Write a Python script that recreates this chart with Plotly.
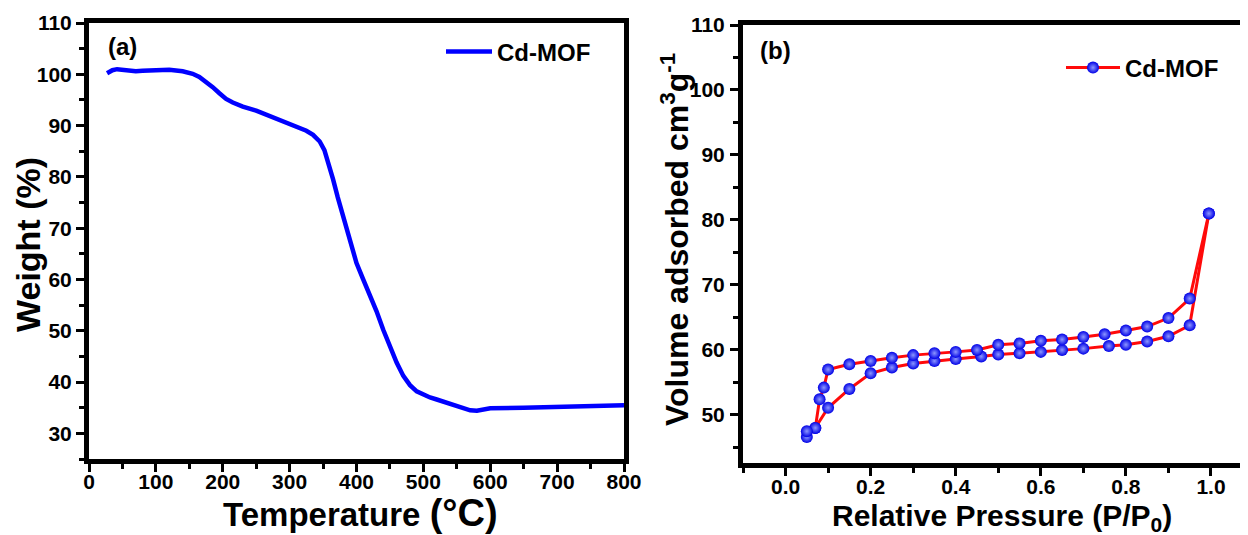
import plotly.graph_objects as go

# ---- Panel (a): TGA ----
temps = [27, 35, 42, 50, 60, 70, 80, 100, 120, 140, 155, 165, 175, 185, 195, 205, 215, 230, 250,
         270, 290, 310, 325, 335, 345, 352, 358, 365, 372, 380, 390, 400, 410, 420, 430, 440, 450,
         460, 470, 480, 490, 500, 510, 520, 530, 540, 550, 560, 570, 580, 590, 600, 650, 700, 750, 800]
weights = [100.2, 100.8, 101.0, 100.9, 100.6, 100.6, 100.7, 100.9, 100.9, 100.6, 100.1, 99.5, 98.6,
           97.5, 96.3, 95.2, 94.5, 93.7, 92.9, 91.9, 90.8, 89.9, 89.0, 88.2, 86.9, 85.2, 82.8, 79.5,
           76.0, 72.3, 67.5, 63.2, 60.0, 57.0, 53.8, 50.2, 46.8, 43.8, 41.2, 39.4, 38.2, 37.5, 37.0,
           36.6, 36.2, 35.8, 35.3, 34.8, 34.5, 34.4, 34.7, 34.9, 35.0, 35.1, 35.3, 35.5]

# ---- Panel (b): N2 isotherm ----
ads_p = [0.05, 0.07, 0.10, 0.15, 0.20, 0.25, 0.30, 0.35, 0.40, 0.46, 0.50, 0.55, 0.60, 0.65, 0.70,
         0.76, 0.80, 0.85, 0.90, 0.95, 0.995]
ads_v = [46.6, 48.0, 51.1, 54.0, 56.4, 57.3, 57.9, 58.3, 58.6, 59.0, 59.3, 59.5, 59.7, 60.0, 60.2,
         60.6, 60.8, 61.3, 62.1, 63.8, 81.0]
des_p = [0.995, 0.95, 0.90, 0.85, 0.80, 0.75, 0.70, 0.65, 0.60, 0.55, 0.50, 0.45, 0.40, 0.35, 0.30,
         0.25, 0.20, 0.15, 0.10, 0.09, 0.08, 0.07, 0.05]
des_v = [81.0, 67.9, 64.9, 63.6, 63.0, 62.4, 62.0, 61.6, 61.4, 61.0, 60.8, 60.0, 59.7, 59.5, 59.2,
         58.8, 58.3, 57.8, 57.0, 54.2, 52.4, 48.0, 47.5]

series_name = "Cd-MOF"
title_a_x = "Temperature <span style='font-size:38px'>(°C)</span>"
title_a_y = "Weight (%)"
title_b_x = "Relative Pressure (P/P<sub>0</sub>)"
title_b_y = "Volume adsorbed cm<sup>3</sup>g<sup>-1</sup>"

# page body has an 8px margin: figure is 1240x527 so it ends at the window edge
OFF = 8
W, H = 1240, 527
def fx(sx):
    return (sx - OFF) / W
def fy(sy):
    return 1 - (sy - OFF) / H

FONT = "Liberation Sans, Arial, sans-serif"
BOLD = dict(family=FONT, weight="bold", color="black")

fig = go.Figure()
fig.add_trace(go.Scatter(x=temps, y=weights, mode="lines", name=series_name,
                         line=dict(color="#0000FF", width=4.5), xaxis="x", yaxis="y",
                         legend="legend", showlegend=True))
marker = dict(size=12, color="#0000E6", line=dict(width=0),
              gradient=dict(type="radial", color="#8C96FF"))
fig.add_trace(go.Scatter(x=ads_p, y=ads_v, mode="lines+markers", name=series_name,
                         line=dict(color="#FF0A0A", width=3), marker=marker,
                         xaxis="x2", yaxis="y2", legend="legend2", showlegend=True))
fig.add_trace(go.Scatter(x=des_p, y=des_v, mode="lines+markers", name=series_name,
                         line=dict(color="#FF0A0A", width=3), marker=marker,
                         xaxis="x2", yaxis="y2", showlegend=False, legend="legend2"))

def ax(**kw):
    base = dict(showline=True, linecolor="black", linewidth=5, ticks="outside", ticklen=8,
                tickwidth=3, tickcolor="black", showgrid=False, zeroline=False,
                automargin=False, tickfont=dict(size=21, **BOLD))
    base.update(kw)
    return base

def minor(d):
    return dict(dtick=d, ticklen=5, tickwidth=3, tickcolor="black", ticks="outside")

def label(text, sx, sy, size, angle=0):
    return dict(text=text, x=fx(sx), y=fy(sy), xref="paper", yref="paper", showarrow=False,
                xanchor="center", yanchor="middle", textangle=angle,
                font=dict(size=size, **BOLD))

fig.update_layout(
    width=W, height=H, margin=dict(l=0, r=0, t=0, b=0, pad=0), autosize=False,
    paper_bgcolor="white", plot_bgcolor="white", showlegend=True,
    xaxis=ax(domain=[fx(89), fx(624)], range=[0, 800], dtick=100, tick0=0, mirror=True,
             anchor="y", minor=minor(50), ticklabelstandoff=-8),
    yaxis=ax(domain=[fy(459), fy(23)], range=[25, 110], dtick=10, tick0=0,
             mirror=True, anchor="x", minor=minor(5), ticklabelstandoff=0),
    xaxis2=ax(domain=[fx(743), 1.0], range=[-0.1, 1.087], dtick=0.2, tick0=0, tickformat=".1f",
              mirror=True, anchor="y2", minor=minor(0.1), ticklabelstandoff=-7),
    yaxis2=ax(domain=[fy(463), fy(25)], range=[42.6, 110], dtick=10, tick0=0,
              anchor="x2", minor=minor(5), ticklabelstandoff=1),
    legend=dict(x=fx(441), y=fy(52), xanchor="left", yanchor="middle", visible=True,
                bgcolor="rgba(0,0,0,0)", font=dict(size=24, **BOLD), itemwidth=46),
    legend2=dict(x=fx(1061), y=fy(68), xanchor="left", yanchor="middle", visible=True,
                 bgcolor="rgba(0,0,0,0)", font=dict(size=24, **BOLD), itemwidth=54),
    annotations=[
        label("(a)", 122, 47, 24),
        label("(b)", 775, 51, 24),
        label(title_a_x, 360, 513, 33),
        label(title_a_y, 28, 245, 34, -90),
        label(title_b_x, 1002, 517, 30),
        label(title_b_y, 675, 240, 32, -90),
    ],
)

fig.write_html("out.html")
